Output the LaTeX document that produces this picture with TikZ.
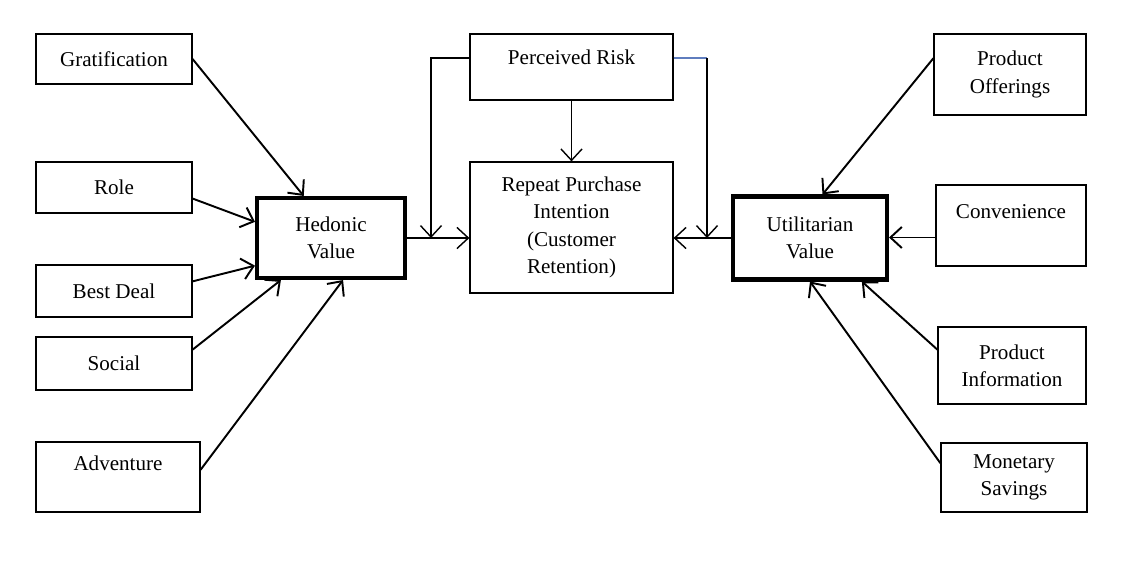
\documentclass[tikz,border=0pt]{standalone}
\usepackage{fontspec}
\setmainfont{Liberation Serif}
\usepackage{xcolor}
\usetikzlibrary{arrows.meta}

\definecolor{riskblue}{RGB}{95,125,190}

\begin{document}
\begin{tikzpicture}[
            x=0.02cm, y=-0.02cm,
            box/.style={draw, line width=0.7pt, align=center, inner sep=0pt,
                font=\fontsize{12}{15.5}\selectfont},
            keybox/.style={box, line width=2.3pt},
            link/.style={-{Straight Barb[length=6.5pt,width=12pt]}, line width=1.1pt},
            risklink/.style={-{Straight Barb[length=6.5pt,width=12pt]}, line width=0.8pt}
        ]
        \useasboundingbox (0,0) rectangle (1148,572);

        % hedonic side
        \node[box, minimum width=3.12cm, minimum height=1.0cm] (grat) at (114,59) {Gratification};
        \node[box, minimum width=3.12cm, minimum height=1.02cm] (role) at (114,187.5) {Role};
        \node[box, minimum width=3.12cm, minimum height=1.04cm] (deal) at (114,291) {Best Deal};
        \node[box, minimum width=3.12cm, minimum height=1.06cm] (social) at (114,363.5) {Social};
        \node[box, minimum width=3.28cm, minimum height=1.4cm] (adv) at (118,477) {Adventure\\~};
        \node[keybox, minimum width=2.96cm, minimum height=1.6cm] (hedonic) at (331,238) {Hedonic\\Value};

        % centre
        \node[box, minimum width=4.06cm, minimum height=1.32cm] (risk) at (571.5,67) {Perceived Risk\\[-4pt]~};
        \node[box, minimum width=4.06cm, minimum height=2.62cm] (repeat) at (571.5,227.5)
            {Repeat Purchase\\Intention\\(Customer\\Retention)};

        % utilitarian side
        \node[keybox, minimum width=3.08cm, minimum height=1.66cm] (util) at (810,238) {Utilitarian\\Value};
        \node[box, minimum width=3.04cm, minimum height=1.62cm] (offer) at (1010,74.5) {Product\\Offerings};
        \node[box, minimum width=3.0cm, minimum height=1.62cm] (conv) at (1011,225.5) {Convenience\\~};
        \node[box, minimum width=2.96cm, minimum height=1.54cm] (info) at (1012,365.5) {Product\\Information};
        \node[box, minimum width=2.92cm, minimum height=1.38cm] (money) at (1014,477.5) {Monetary\\Savings};

        \coordinate (jleft) at (431,238);
        \coordinate (jright) at (707,238);

        % into hedonic value
        \draw[link] (grat.east) -- (hedonic.123);
        \draw[link] (role.-8) -- (hedonic.168);
        \draw[link] (deal.7) -- (hedonic.200);
        \draw[link] (social.10) -- (hedonic.220);
        \draw[link] (adv.5) -- (hedonic.286);

        % into utilitarian value
        \draw[link] (offer.168) -- (util.74);
        \draw[link] (conv.189) -- (conv.189 -| util.east);
        \draw[link] (info.168) -- (util.320);
        \draw[link] (money.169) -- (util.270);

        % values to retention
        \draw[risklink] (hedonic.east) -- (hedonic.east -| repeat.west);
        \draw[risklink] (util.west) -- (util.west -| repeat.east);

        % perceived risk
        \draw[risklink] (risk.south) -- (repeat.north);
        \draw[risklink] (risk.175) -| (jleft);
        \draw[line width=0.8pt, riskblue] (risk.5) -- (risk.5 -| jright);
        \draw[risklink] (risk.5 -| jright) -- (jright);

    \end{tikzpicture}
\end{document}
